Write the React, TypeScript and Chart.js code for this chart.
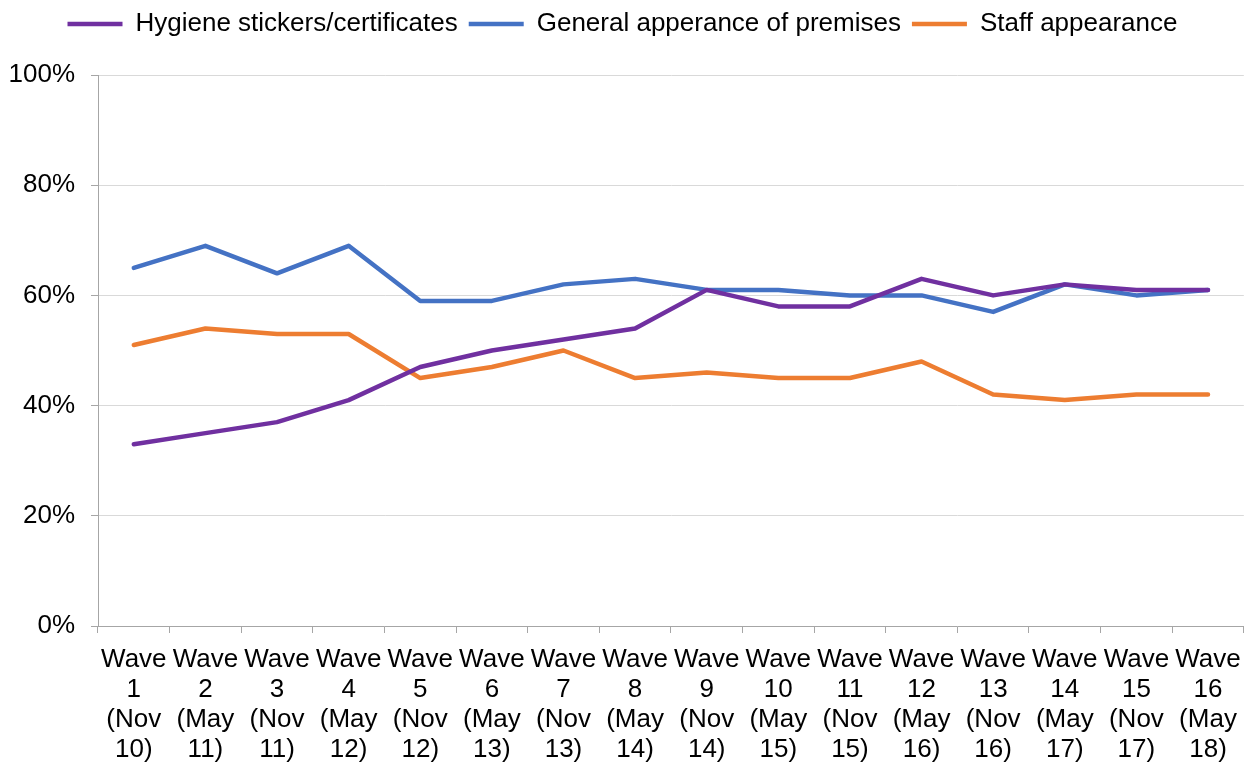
import React, { useEffect, useRef } from "react";
import { Chart, registerables } from "chart.js";

Chart.register(...registerables);

const categories: string[][] = [
  ["Wave", "1", "(Nov", "10)"],
  ["Wave", "2", "(May", "11)"],
  ["Wave", "3", "(Nov", "11)"],
  ["Wave", "4", "(May", "12)"],
  ["Wave", "5", "(Nov", "12)"],
  ["Wave", "6", "(May", "13)"],
  ["Wave", "7", "(Nov", "13)"],
  ["Wave", "8", "(May", "14)"],
  ["Wave", "9", "(Nov", "14)"],
  ["Wave", "10", "(May", "15)"],
  ["Wave", "11", "(Nov", "15)"],
  ["Wave", "12", "(May", "16)"],
  ["Wave", "13", "(Nov", "16)"],
  ["Wave", "14", "(May", "17)"],
  ["Wave", "15", "(Nov", "17)"],
  ["Wave", "16", "(May", "18)"],
];

const hygiene = [33, 35, 37, 41, 47, 50, 52, 54, 61, 58, 58, 63, 60, 62, 61, 61];
const premises = [65, 69, 64, 69, 59, 59, 62, 63, 61, 61, 60, 60, 57, 62, 60, 61];
const staff = [51, 54, 53, 53, 45, 47, 50, 45, 46, 45, 45, 48, 42, 41, 42, 42];

const seriesNames = ["Hygiene stickers/certificates", "General apperance of premises", "Staff appearance"];
const seriesColors = ["#7030A0", "#4472C4", "#ED7D31"];

const FONT = "'Liberation Sans', Arial, sans-serif";

const legendSpacer = {
  id: "legendSpacer",
  beforeUpdate(chart: any) {
    const lg = chart.legend;
    if (lg && !lg.__patched) {
      const orig = lg.fit.bind(lg);
      lg.fit = function () {
        orig();
        this.height += 28;
      };
      lg.__patched = true;
    }
  },
};

export default function App() {
  const ref = useRef<HTMLCanvasElement | null>(null);

  useEffect(() => {
    document.body.style.margin = "0";
    if (!ref.current) return;
    const values = [hygiene, premises, staff];
    const chart = new Chart(ref.current, {
      type: "line",
      data: {
        labels: categories,
        datasets: values.map((v, i) => ({
          label: seriesNames[i],
          data: v,
          borderColor: seriesColors[i],
          backgroundColor: seriesColors[i],
          borderWidth: 4.5,
          pointRadius: 0,
          pointHoverRadius: 0,
          tension: 0,
          borderCapStyle: "round" as const,
          borderJoinStyle: "round" as const,
          pointStyle: "line" as const,
        })),
      },
      plugins: [legendSpacer],
      options: {
        animation: false,
        responsive: true,
        maintainAspectRatio: false,
        layout: { padding: { left: 0, right: 8, top: 0, bottom: 0 } },
        plugins: {
          tooltip: { enabled: false },
          legend: {
            position: "top",
            labels: {
              usePointStyle: true,
              pointStyleWidth: 55,
              padding: 11,
              color: "#000",
              font: { family: FONT, size: 26 },
            },
          },
        },
        scales: {
          x: {
            offset: true,
            afterFit: (s: any) => {
              s.height = 136;
            },
            grid: {
              offset: true,
              drawOnChartArea: false,
              drawTicks: true,
              tickLength: 7,
              tickColor: "#a6a6a6",
            },
            border: { color: "#a6a6a6", width: 1 },
            ticks: {
              autoSkip: false,
              maxRotation: 0,
              minRotation: 0,
              padding: 12,
              color: "#000",
              font: { family: FONT, size: 26, lineHeight: 30 / 26 },
            },
          },
          y: {
            min: 0,
            max: 100,
            afterFit: (s: any) => {
              s.width = 98;
            },
            grid: {
              color: "#d9d9d9",
              lineWidth: 1,
              tickLength: 7,
              tickColor: "#a6a6a6",
            },
            border: { color: "#a6a6a6", width: 1 },
            ticks: {
              stepSize: 20,
              padding: 16,
              color: "#000",
              font: { family: FONT, size: 26 },
              callback: (v: any) => `${v}%`,
            },
          },
        },
      },
    });
    return () => chart.destroy();
  }, []);

  return (
    <div style={{ width: 1253, height: 762, position: "relative" }}>
      <canvas ref={ref} />
    </div>
  );
}
